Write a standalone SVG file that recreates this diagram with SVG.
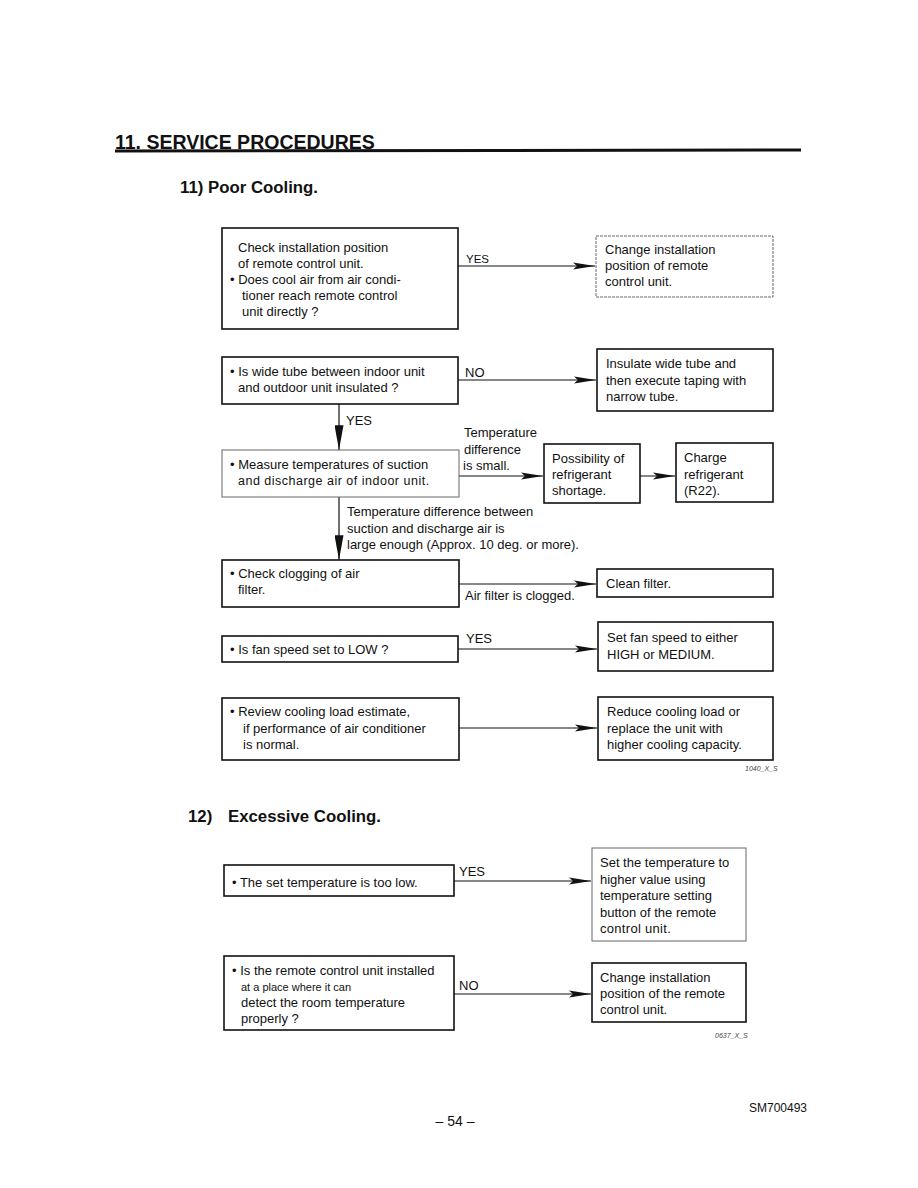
<svg xmlns="http://www.w3.org/2000/svg" width="918" height="1188" viewBox="0 0 918 1188">
<style>
text{font-family:"Liberation Sans",Arial,sans-serif;fill:#111}
.t{font-size:13px}
.s{font-size:11.5px}
.w{font-size:12.5px;letter-spacing:0.5px}
.h{font-size:19.5px;font-weight:bold}
.h2{font-size:16.8px;font-weight:bold}
.box{fill:#fff;stroke:#111;stroke-width:1.6}
.thin{fill:#fff;stroke:#666;stroke-width:1}
.ln{stroke:#111;stroke-width:1.2;fill:none}
.tiny{font-size:7px;font-style:italic;fill:#444}
</style>
<defs>
<marker id="ah" viewBox="0 0 22 8" refX="22" refY="4" markerWidth="22" markerHeight="8" markerUnits="userSpaceOnUse" orient="auto">
<path d="M0,0.5 L22,4 L0,7.5 L4,4 Z" fill="#111"/>
</marker>
<marker id="av" viewBox="0 0 22 8" refX="22" refY="4" markerWidth="26" markerHeight="9" markerUnits="userSpaceOnUse" orient="auto">
<path d="M0,0 L22,4 L0,8 Z" fill="#111"/>
</marker>
</defs>
<rect width="918" height="1188" fill="#fff"/>

<g id="header">
<text x="115" y="149" class="h">11.  SERVICE PROCEDURES</text>
<line x1="115" y1="151" x2="801" y2="150" stroke="#111" stroke-width="3"/>
<text x="180" y="193" class="h2">11) Poor Cooling.</text>
</g>

<g id="connectors">
<line x1="458" y1="266" x2="595" y2="266" class="ln" marker-end="url(#ah)"/>
<text x="466" y="263" class="s">YES</text>
<line x1="458" y1="380" x2="596" y2="380" class="ln" marker-end="url(#ah)"/>
<text x="465" y="377" class="t">NO</text>
<line x1="339" y1="404" x2="339" y2="450" class="ln" marker-end="url(#av)"/>
<text x="346" y="425" class="t">YES</text>
<line x1="459" y1="476" x2="543" y2="476" class="ln" marker-end="url(#ah)"/>
<text x="464" y="437" class="t">Temperature</text>
<text x="464" y="454" class="t">difference</text>
<text x="463" y="470" class="t">is small.</text>
<line x1="640" y1="476" x2="675" y2="476" class="ln" marker-end="url(#ah)"/>
<line x1="339" y1="497" x2="339" y2="560" class="ln" marker-end="url(#av)"/>
<text x="347" y="516" class="t">Temperature difference between</text>
<text x="347" y="533" class="t">suction and discharge air is</text>
<text x="347" y="549" class="t">large enough (Approx. 10 deg. or more).</text>
<line x1="459" y1="584" x2="596" y2="584" class="ln" marker-end="url(#ah)"/>
<text x="465" y="600" class="t">Air filter is clogged.</text>
<line x1="458" y1="649" x2="597" y2="649" class="ln" marker-end="url(#ah)"/>
<text x="466" y="643" class="t">YES</text>
<line x1="459" y1="728" x2="597" y2="728" class="ln" marker-end="url(#ah)"/>
<line x1="454" y1="881" x2="591" y2="881" class="ln" marker-end="url(#ah)"/>
<text x="459" y="876" class="t">YES</text>
<line x1="454" y1="994" x2="591" y2="994" class="ln" marker-end="url(#ah)"/>
<text x="459" y="990" class="t">NO</text>
</g>

<g id="n1">
<rect x="222" y="228" width="236" height="101" class="box"/>
<text x="238" y="252" class="t">Check installation position</text>
<text x="238" y="268" class="t">of remote control unit.</text>
<text x="230" y="284" class="t">• Does cool air from air condi-</text>
<text x="242" y="300" class="t">tioner reach remote control</text>
<text x="242" y="316" class="t">unit directly ?</text>
</g>
<g id="n1r">
<rect x="596" y="236" width="177" height="61" class="thin" stroke-dasharray="3,1"/>
<text x="605" y="254" class="t">Change installation</text>
<text x="605" y="270" class="t">position of remote</text>
<text x="605" y="286" class="t">control unit.</text>
</g>

<g id="n2">
<rect x="222" y="357" width="236" height="47" class="box"/>
<text x="230" y="376" class="t">• Is wide tube between indoor unit</text>
<text x="238" y="392" class="t">and outdoor unit insulated ?</text>
</g>
<g id="n2r">
<rect x="597" y="349" width="176" height="62" class="box"/>
<text x="606" y="368" class="t">Insulate wide tube and</text>
<text x="606" y="385" class="t">then execute taping with</text>
<text x="606" y="401" class="t">narrow tube.</text>
</g>

<g id="n3">
<rect x="222" y="450" width="237" height="47" class="thin"/>
<text x="230" y="469" class="t">• Measure temperatures of suction</text>
<text x="238" y="485" class="w">and discharge air of indoor unit.</text>
</g>
<g id="n3a">
<rect x="544" y="444" width="96" height="59" class="box"/>
<text x="552" y="463" class="t">Possibility of</text>
<text x="552" y="479" class="t">refrigerant</text>
<text x="552" y="495" class="t">shortage.</text>
</g>
<g id="n3b">
<rect x="676" y="443" width="97" height="59" class="box"/>
<text x="684" y="462" class="t">Charge</text>
<text x="684" y="479" class="t">refrigerant</text>
<text x="684" y="495" class="t">(R22).</text>
</g>

<g id="n4">
<rect x="222" y="560" width="237" height="47" class="box"/>
<text x="230" y="578" class="t">• Check clogging of air</text>
<text x="238" y="594" class="t">filter.</text>
</g>
<g id="n4r">
<rect x="597" y="569" width="176" height="28" class="box"/>
<text x="606" y="588" class="t">Clean filter.</text>
</g>

<g id="n5">
<rect x="222" y="636" width="236" height="26" class="box"/>
<text x="230" y="654" class="t">• Is fan speed set to LOW ?</text>
</g>
<g id="n5r">
<rect x="598" y="622" width="175" height="49" class="box"/>
<text x="607" y="642" class="t">Set fan speed to either</text>
<text x="607" y="659" class="t">HIGH or MEDIUM.</text>
</g>

<g id="n6">
<rect x="222" y="698" width="237" height="62" class="box"/>
<text x="230" y="716" class="t">• Review cooling load estimate,</text>
<text x="243" y="733" class="t">if performance of air conditioner</text>
<text x="243" y="749" class="t">is normal.</text>
</g>
<g id="n6r">
<rect x="598" y="697" width="175" height="63" class="box"/>
<text x="607" y="716" class="t">Reduce cooling load or</text>
<text x="607" y="733" class="t">replace the unit with</text>
<text x="607" y="749" class="t">higher cooling capacity.</text>
</g>
<text x="745" y="771" class="tiny">1040_X_S</text>

<g id="header2">
<text x="188" y="822" class="h2">12)</text>
<text x="228" y="822" class="h2">Excessive Cooling.</text>
</g>

<g id="n7">
<rect x="224" y="865" width="230" height="31" class="box"/>
<text x="232" y="887" class="t">• The set temperature is too low.</text>
</g>
<g id="n7r">
<rect x="592" y="848" width="154" height="93" class="thin"/>
<text x="600" y="867" class="t">Set the temperature to</text>
<text x="600" y="884" class="t">higher value using</text>
<text x="600" y="900" class="t">temperature setting</text>
<text x="600" y="917" class="t">button of the remote</text>
<text x="600" y="933" class="t" letter-spacing="0.3">control unit.</text>
</g>

<g id="n8">
<rect x="224" y="956" width="230" height="74" class="box"/>
<text x="232" y="975" class="t">• Is the remote control unit installed</text>
<text x="241" y="991" font-size="11px">at a place where it can</text>
<text x="241" y="1007" class="t">detect the room temperature</text>
<text x="241" y="1023" class="t">properly ?</text>
</g>
<g id="n8r">
<rect x="592" y="963" width="154" height="59" class="box"/>
<text x="600" y="982" class="t">Change installation</text>
<text x="600" y="998" class="t">position of the remote</text>
<text x="600" y="1014" class="t">control unit.</text>
</g>
<text x="715" y="1038" class="tiny">0637_X_S</text>

<g id="footer">
<text x="455" y="1126" font-size="14" text-anchor="middle">– 54 –</text>
<text x="749" y="1112" font-size="12">SM700493</text>
</g>
</svg>
